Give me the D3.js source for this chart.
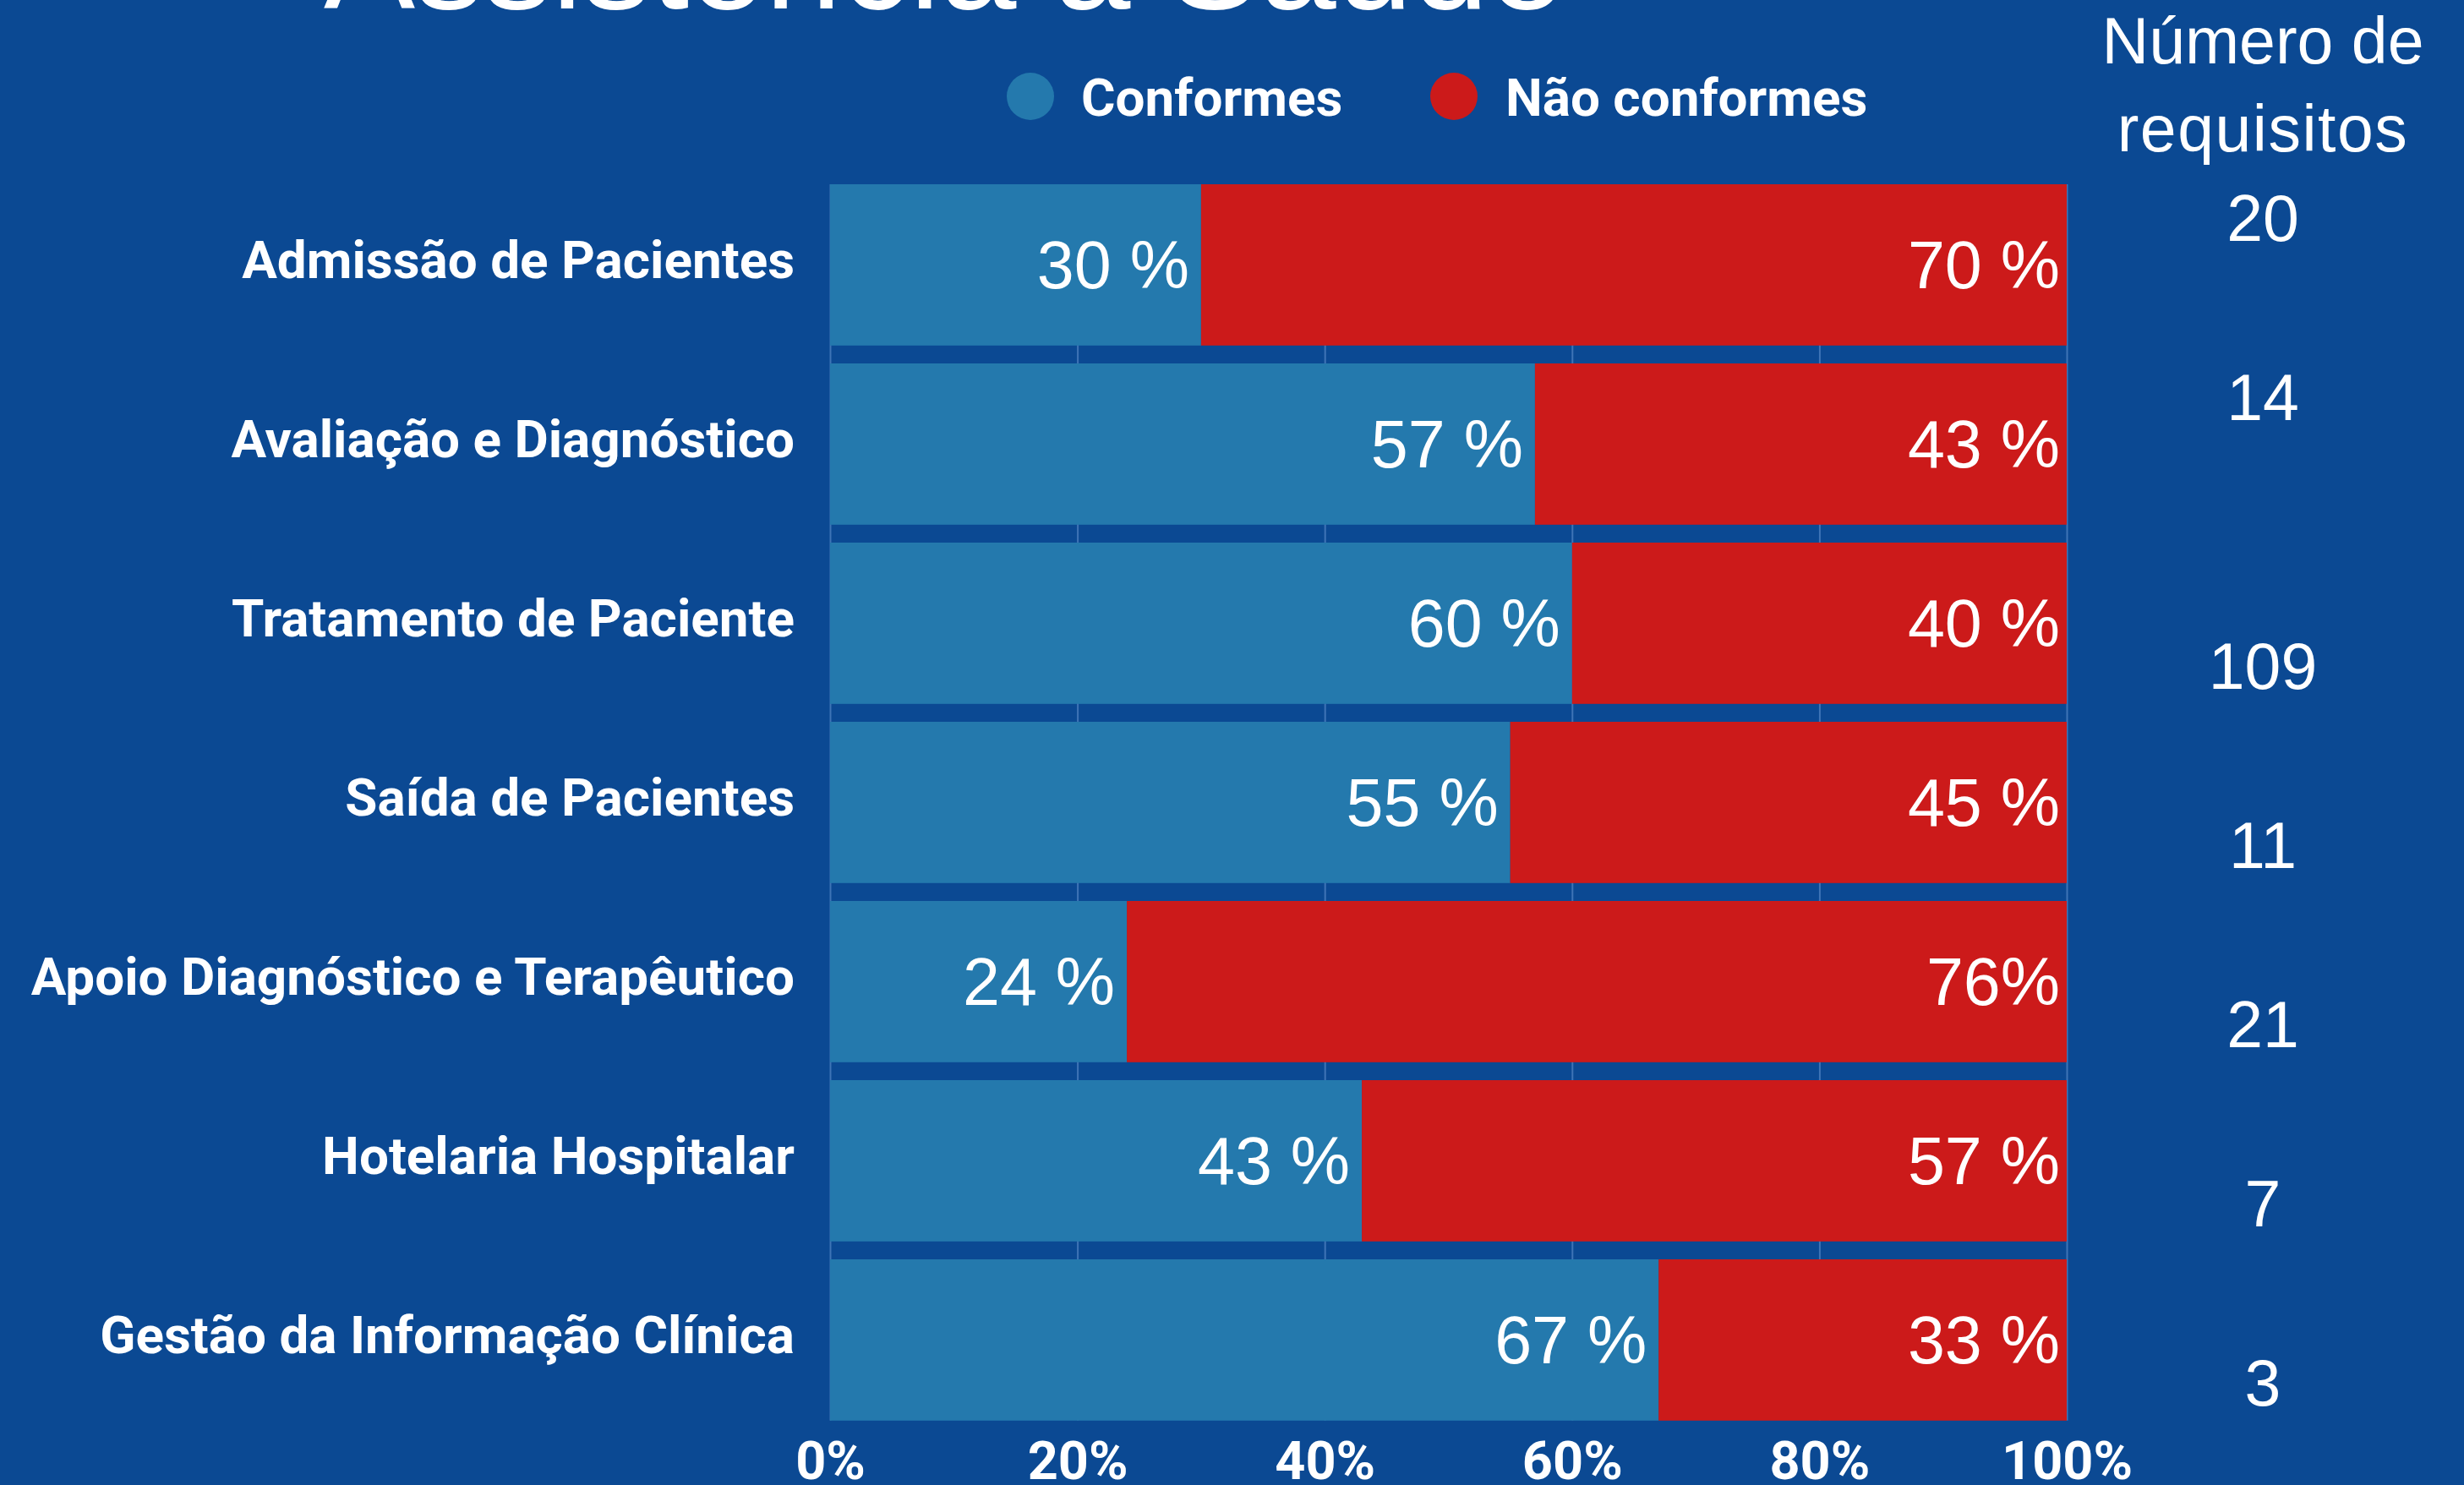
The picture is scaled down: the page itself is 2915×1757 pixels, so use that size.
<!DOCTYPE html>
<html>
<head>
<meta charset="utf-8">
<script src="https://cdn.jsdelivr.net/npm/d3@7"></script>
<style>
  html, body { margin: 0; padding: 0; background: #0b4993; }
  svg { display: block; }
</style>
</head>
<body>
<svg id="chart" width="2915" height="1757"></svg>
<script>
const categories = [
  "Admissão de Pacientes",
  "Avaliação e Diagnóstico",
  "Tratamento de Paciente",
  "Saída de Pacientes",
  "Apoio Diagnóstico e Terapêutico",
  "Hotelaria Hospitalar",
  "Gestão da Informação Clínica"
];
const conformes = [30, 57, 60, 55, 24, 43, 67];
const naoConformes = [70, 43, 40, 45, 76, 57, 33];
const conformesLabels = ["30 %", "57 %", "60 %", "55 %", "24 %", "43 %", "67 %"];
const naoConformesLabels = ["70 %", "43 %", "40 %", "45 %", "76%", "57 %", "33 %"];
const requisitos = [20, 14, 109, 11, 21, 7, 3];
const xTicks = [0, 20, 40, 60, 80, 100];
const seriesNames = ["Conformes", "Não conformes"];

(function () {
const W = 2915, H = 1757;
const BG = "#0b4993", BLUE = "#2479ad", RED = "#cc1a1a", GRID = "#3f74b6";
const svg = d3.select("#chart");
svg.append("rect").attr("width", W).attr("height", H).attr("fill", BG);

const pL = 982, pR = 2445, pT = 207.4, pB = 1691.4;
const x = d3.scaleLinear().domain([0, 100]).range([pL, pR]);
const y = d3.scaleBand().domain(categories).range([pT, pB]).paddingInner(0.1).paddingOuter(0.05);
const color = d3.scaleOrdinal().domain(seriesNames).range([BLUE, RED]);

const rows = categories.map((c, i) => ({ cat: c, "Conformes": conformes[i], "Não conformes": naoConformes[i], i }));
const stacked = d3.stack().keys(seriesNames)(rows);
const labelSets = { "Conformes": conformesLabels, "Não conformes": naoConformesLabels };

// grid (between first bar top and last bar bottom)
const gTop = y(categories[0]);
const gBot = y(categories[categories.length - 1]) + y.bandwidth();
const grid = svg.append("g").attr("transform", `translate(0,${gBot})`)
  .call(d3.axisBottom(x).tickValues(xTicks).tickSize(-(gBot - gTop)).tickFormat(""));
grid.select(".domain").remove();
grid.selectAll("line").attr("stroke", GRID).attr("stroke-width", 2);

// bars
const g = svg.append("g");
stacked.forEach(s => {
  g.append("g").selectAll("rect").data(s).join("rect")
    .attr("x", d => x(d[0]))
    .attr("width", d => x(d[1]) - x(d[0]))
    .attr("y", d => y(d.data.cat))
    .attr("height", y.bandwidth())
    .attr("fill", color(s.key));
});

// value labels
const valFont = "'Liberation Sans', Arial, sans-serif";
stacked.forEach(s => {
  g.append("g").selectAll("text").data(s).join("text")
    .attr("x", d => x(d[1]) - (s.key === "Conformes" ? 14 : 8))
    .attr("y", d => y(d.data.cat) + y.bandwidth() / 2 + 28)
    .attr("text-anchor", "end")
    .attr("fill", "#fff")
    .attr("font-family", valFont)
    .attr("font-size", 79)
    .text(d => labelSets[s.key][d.data.i]);
});

// category labels
svg.append("g").selectAll("text").data(categories).join("text")
  .attr("x", 940)
  .attr("y", d => y(d) + y.bandwidth() / 2 + 16)
  .attr("text-anchor", "end")
  .attr("fill", "#fff")
  .attr("font-family", "Roboto, sans-serif")
  .attr("font-weight", 700)
  .attr("font-size", 62)
  .text(d => d);

// x axis labels
const xa = svg.append("g").attr("transform", `translate(0,${pB})`)
  .call(d3.axisBottom(x).tickValues(xTicks).tickSize(0).tickFormat(d => d + "%"));
xa.select(".domain").remove();
xa.selectAll("text").attr("y", 59).attr("dy", 0)
  .attr("fill", "#fff").attr("font-family", "Roboto, sans-serif")
  .attr("font-weight", 700).attr("font-size", 63);

// right column: number of requirements
const colX = 2677;
svg.append("text").attr("x", colX).attr("y", 75).attr("text-anchor", "middle")
  .attr("fill", "#fff").attr("font-family", valFont).attr("font-size", 77).text("Número de");
svg.append("text").attr("x", colX).attr("y", 179).attr("text-anchor", "middle")
  .attr("fill", "#fff").attr("font-family", valFont).attr("font-size", 77)
  .attr("letter-spacing", 1.5).text("requisitos");
const step = y.step();
svg.append("g").selectAll("text").data(requisitos).join("text")
  .attr("x", colX)
  .attr("y", (d, i) => y(categories[i]) + y.bandwidth() / 2 + (i < 2 ? -0.26 : 0.24) * step + 27)
  .attr("text-anchor", "middle")
  .attr("fill", "#fff")
  .attr("font-family", valFont)
  .attr("font-size", 77)
  .text(d => d);

// legend
const legend = svg.append("g");
const legendPos = [{ cx: 1219, tx: 1279 }, { cx: 1720, tx: 1781 }];
seriesNames.forEach((n, i) => {
  legend.append("circle").attr("cx", legendPos[i].cx).attr("cy", 114).attr("r", 28).attr("fill", color(n));
  legend.append("text").attr("x", legendPos[i].tx).attr("y", 137)
    .attr("fill", "#fff").attr("font-family", "Roboto, sans-serif")
    .attr("font-weight", 700).attr("font-size", 62).text(n);
});

// title (cut off at top)
svg.append("text").attr("x", 383).attr("y", 10)
  .attr("fill", "#fff").attr("font-family", valFont).attr("font-size", 162)
  .text("Assistência à Saúde");
})();
</script>
</body>
</html>
